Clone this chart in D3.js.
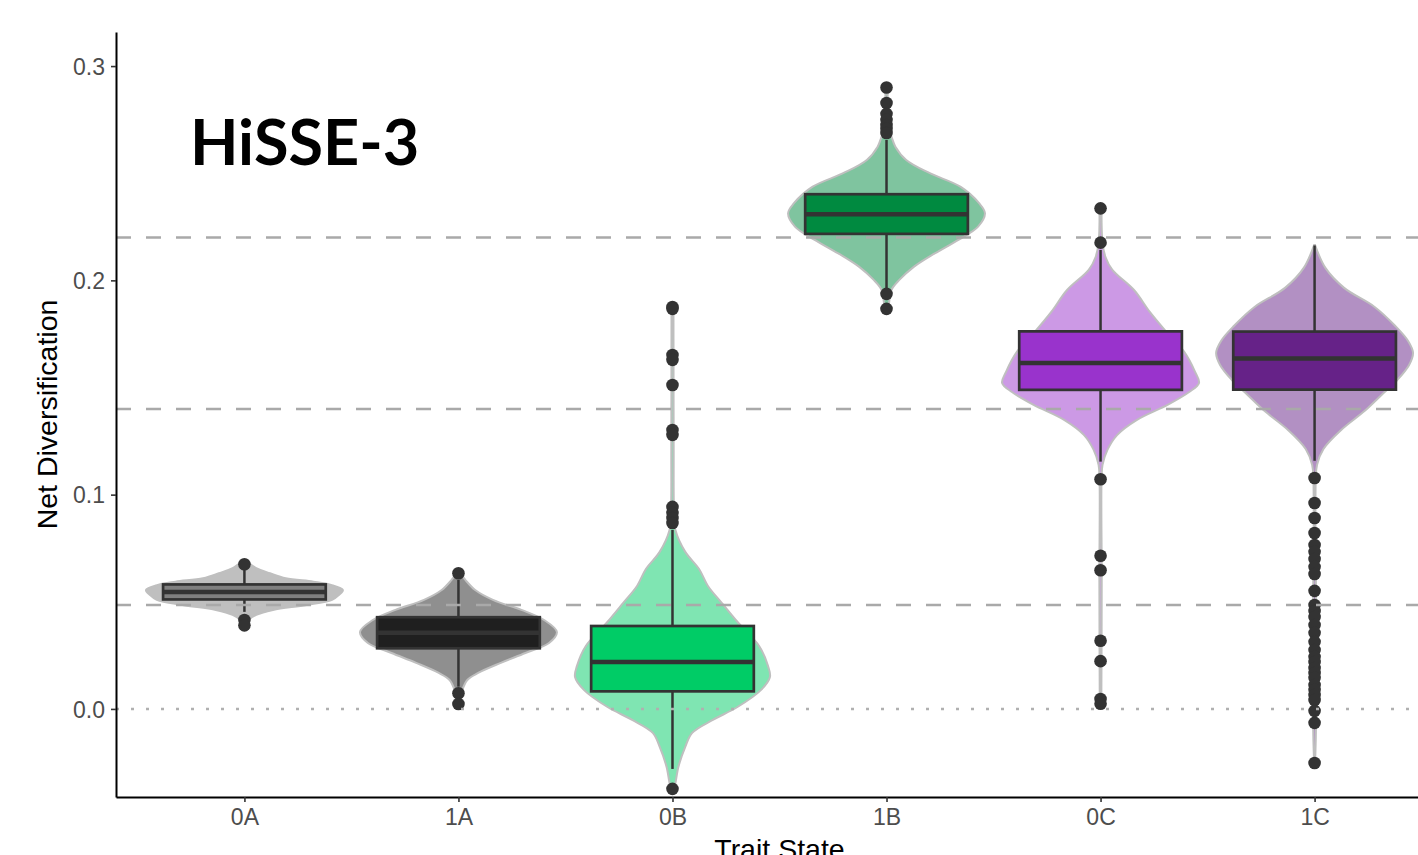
<!DOCTYPE html>
<html>
<head>
<meta charset="utf-8">
<script src="https://cdn.jsdelivr.net/npm/d3@7"></script>
<style>
  body { margin: 0; background: #fff; }
  svg { display: block; }
</style>
</head>
<body>
<script>
// categories on the x axis
var categories = ['0A', '1A', '0B', '1B', '0C', '1C'];

// boxplot stats per category
var lowerWhisker = [0.0453, 0.0104, -0.0280, 0.1955, 0.1154, 0.1158];
var lowerHinge = [0.0511, 0.0283, 0.0082, 0.2217, 0.1489, 0.1490];
var medians = [0.0546, 0.0356, 0.0219, 0.2308, 0.1614, 0.1635];
var upperHinge = [0.0581, 0.0428, 0.0387, 0.2402, 0.1762, 0.1761];
var upperWhisker = [0.0658, 0.0602, 0.0835, 0.2655, 0.2142, 0.2163];

// outlier points per category
var outliers = [
    [0.0675, 0.0415, 0.0390],
    [0.0633, 0.0073, 0.0023],
    [0.1876, 0.1867, 0.1652, 0.1629, 0.1512, 0.1302, 0.1279, 0.0943, 0.0915, 0.0891, 0.0868, -0.0373],
    [0.2900, 0.2828, 0.2777, 0.2749, 0.2725, 0.2707, 0.2688, 0.1937, 0.1867],
    [0.2336, 0.2176, 0.1072, 0.0715, 0.0647, 0.0318, 0.0223, 0.0046, 0.0024],
    [0.1078, 0.0961, 0.0891, 0.0821, 0.0765, 0.0733, 0.0700, 0.0663, 0.0630, 0.0551, 0.0485,
     0.0457, 0.0429, 0.0392, 0.0355, 0.0313, 0.0275, 0.0243, 0.0219, 0.0191, 0.0168, 0.0145,
     0.0112, 0.0089, 0.0065, 0.0042, -0.0009, -0.0065, -0.0252]
];

// violin outline per category: [value, relative half width]
var violins = [
    [[0.0687, 0.03], [0.0657, 0.12], [0.0633, 0.26], [0.0610, 0.42], [0.0594, 0.70], [0.0579, 0.88],
     [0.0555, 1.00], [0.0532, 0.96], [0.0509, 0.89], [0.0485, 0.63], [0.0462, 0.29], [0.0439, 0.12],
     [0.0415, 0.04], [0.0390, 0.01]],
    [[0.0633, 0.01], [0.0625, 0.03], [0.0602, 0.07], [0.0555, 0.17], [0.0509, 0.35], [0.0462, 0.64],
     [0.0415, 0.87], [0.0359, 1.00], [0.0308, 0.92], [0.0261, 0.68], [0.0215, 0.43], [0.0168, 0.20],
     [0.0135, 0.09], [0.0089, 0.04], [0.0023, 0.01]],
    [[0.1876, 0.01], [0.1210, 0.012], [0.0929, 0.015], [0.0835, 0.03], [0.0733, 0.13], [0.0653, 0.27],
     [0.0574, 0.36], [0.0495, 0.50], [0.0401, 0.67], [0.0294, 0.88], [0.0201, 0.97], [0.0149, 0.99],
     [0.0089, 0.90], [0.0009, 0.66], [-0.0051, 0.41], [-0.0112, 0.20], [-0.0177, 0.13],
     [-0.0271, 0.06], [-0.0364, 0.02], [-0.0373, 0.005]],
    [[0.2900, 0.01], [0.2800, 0.015], [0.2695, 0.03], [0.2671, 0.05], [0.2624, 0.09], [0.2562, 0.20],
     [0.2500, 0.44], [0.2437, 0.75], [0.2360, 0.94], [0.2313, 1.00], [0.2251, 0.93], [0.2189, 0.73],
     [0.2126, 0.49], [0.2064, 0.28], [0.2002, 0.13], [0.1955, 0.05], [0.1877, 0.02], [0.1867, 0.01]],
    [[0.2336, 0.01], [0.2175, 0.02], [0.2109, 0.05], [0.2049, 0.12], [0.1955, 0.34], [0.1853, 0.50],
     [0.1759, 0.67], [0.1666, 0.85], [0.1573, 0.96], [0.1521, 1.00], [0.1479, 0.90], [0.1419, 0.68],
     [0.1349, 0.37], [0.1279, 0.17], [0.1209, 0.07], [0.1139, 0.02], [0.1069, 0.01], [0.0600, 0.012],
     [0.0024, 0.008]],
    [[0.2165, 0.005], [0.2058, 0.11], [0.1965, 0.30], [0.1876, 0.61], [0.1787, 0.82], [0.1717, 0.95],
     [0.1661, 1.00], [0.1605, 0.96], [0.1535, 0.84], [0.1465, 0.68], [0.1391, 0.51], [0.1302, 0.27],
     [0.1213, 0.09], [0.1139, 0.025], [0.1069, 0.012], [0.0509, 0.015], [0.0322, 0.02],
     [0.0173, 0.03], [0.0042, 0.02], [-0.0145, 0.012], [-0.0252, 0.005]]
];

// horizontal reference lines
var dashedLines = [0.22, 0.14, 0.0485];
var dottedLines = [0];

// axis ticks
var yTicks = [0, 0.1, 0.2, 0.3];

// fill colours of the boxes, violins use the same at half opacity
var boxColors = ['#7f7f7f', '#1f1f1f', '#00cc66', '#008a40', '#9933cc', '#662288'];

var width = 1418,
    height = 855;

// panel edges, the right side runs past the window like the original
var panel = {left: 116, right: 1443, top: 32, bottom: 797};

var svg = d3.select('body')
    .append('svg')
    .attr('width', width)
    .attr('height', height);

var x = d3.scalePoint()
    .domain(categories)
    .range([panel.left, panel.right])
    .padding(0.6);

var y = d3.scaleLinear()
    .domain([-0.0411, 0.3159])
    .range([panel.bottom, panel.top]);

var step = x.step(),
    violinHalf = step * 0.46,
    boxHalf = step * 0.38;

// violins
var groups = svg.append('g')
    .selectAll('g')
    .data(categories)
    .enter().append('g');

groups.append('path')
    .attr('d', function(d, i) {
        var cx = x(d);
        return d3.area()
            .y(function(p) { return y(p[0]); })
            .x0(function(p) { return cx - p[1] * violinHalf; })
            .x1(function(p) { return cx + p[1] * violinHalf; })
            .curve(d3.curveCatmullRom)(violins[i]) + 'Z';
    })
    .attr('fill', function(d, i) { return boxColors[i]; })
    .attr('fill-opacity', 0.5)
    .attr('stroke', '#bfbfbf')
    .attr('stroke-width', 2);

// whiskers
groups.append('line')
    .attr('x1', function(d) { return x(d); })
    .attr('x2', function(d) { return x(d); })
    .attr('y1', function(d, i) { return y(upperWhisker[i]); })
    .attr('y2', function(d, i) { return y(lowerWhisker[i]); })
    .attr('stroke', '#333')
    .attr('stroke-width', 2.5);

// boxes
groups.append('rect')
    .attr('x', function(d) { return x(d) - boxHalf; })
    .attr('width', boxHalf * 2)
    .attr('y', function(d, i) { return y(upperHinge[i]); })
    .attr('height', function(d, i) { return y(lowerHinge[i]) - y(upperHinge[i]); })
    .attr('fill', function(d, i) { return boxColors[i]; })
    .attr('stroke', '#333')
    .attr('stroke-width', 2.7);

// medians
groups.append('line')
    .attr('x1', function(d) { return x(d) - boxHalf; })
    .attr('x2', function(d) { return x(d) + boxHalf; })
    .attr('y1', function(d, i) { return y(medians[i]); })
    .attr('y2', function(d, i) { return y(medians[i]); })
    .attr('stroke', '#333')
    .attr('stroke-width', 4.5);

// reference lines
svg.append('g')
    .selectAll('line')
    .data(dashedLines)
    .enter().append('line')
    .attr('x1', panel.left)
    .attr('x2', panel.right)
    .attr('y1', function(d) { return y(d); })
    .attr('y2', function(d) { return y(d); })
    .attr('stroke', '#a9a9a9')
    .attr('stroke-width', 2.6)
    .attr('stroke-dasharray', '15,15');

svg.append('g')
    .selectAll('line')
    .data(dottedLines)
    .enter().append('line')
    .attr('x1', panel.left)
    .attr('x2', panel.right)
    .attr('y1', function(d) { return y(d); })
    .attr('y2', function(d) { return y(d); })
    .attr('stroke', '#b0b0b0')
    .attr('stroke-width', 2.6)
    .attr('stroke-dasharray', '3,12');

// outliers
groups.selectAll('circle')
    .data(function(d, i) { return outliers[i].map(function(v) { return {cat: d, v: v}; }); })
    .enter().append('circle')
    .attr('cx', function(p) { return x(p.cat); })
    .attr('cy', function(p) { return y(p.v); })
    .attr('r', 6.3)
    .attr('fill', '#333');

// axes
var yAxis = svg.append('g')
    .attr('transform', 'translate(' + panel.left + ',0)')
    .call(d3.axisLeft(y).tickValues(yTicks).tickFormat(d3.format('.1f')).tickSize(5).tickSizeOuter(0));

var xAxis = svg.append('g')
    .attr('transform', 'translate(0,' + panel.bottom + ')')
    .call(d3.axisBottom(x).tickSize(5).tickSizeOuter(0));

[yAxis, xAxis].forEach(function(a) {
    a.select('.domain').attr('stroke', '#000').attr('stroke-width', 2);
    a.selectAll('.tick line').attr('stroke', '#333').attr('stroke-width', 1.6);
    a.selectAll('.tick text')
        .attr('fill', '#4d4d4d')
        .style('font-family', '"Liberation Sans", Arial, sans-serif')
        .style('font-size', '23px');
});
yAxis.selectAll('.tick text').attr('x', -11).attr('dy', '0.36em');
xAxis.selectAll('.tick text').attr('y', 12);

// axis titles
svg.append('text')
    .attr('transform', 'translate(57,' + ((panel.top + panel.bottom) / 2) + ') rotate(-90)')
    .attr('text-anchor', 'middle')
    .style('font-family', '"Liberation Sans", Arial, sans-serif')
    .style('font-size', '28.5px')
    .text('Net Diversification');

svg.append('text')
    .attr('x', (panel.left + panel.right) / 2)
    .attr('y', 859)
    .attr('text-anchor', 'middle')
    .style('font-family', '"Liberation Sans", Arial, sans-serif')
    .style('font-size', '28.5px')
    .text('Trait State');

// model label
svg.append('text')
    .attr('x', 190)
    .attr('y', 165)
    .style('font-family', 'Lato, "Open Sans", sans-serif')
    .style('font-weight', 'bold')
    .style('font-size', '63px')
    .text('HiSSE-3');
</script>
</body>
</html>
